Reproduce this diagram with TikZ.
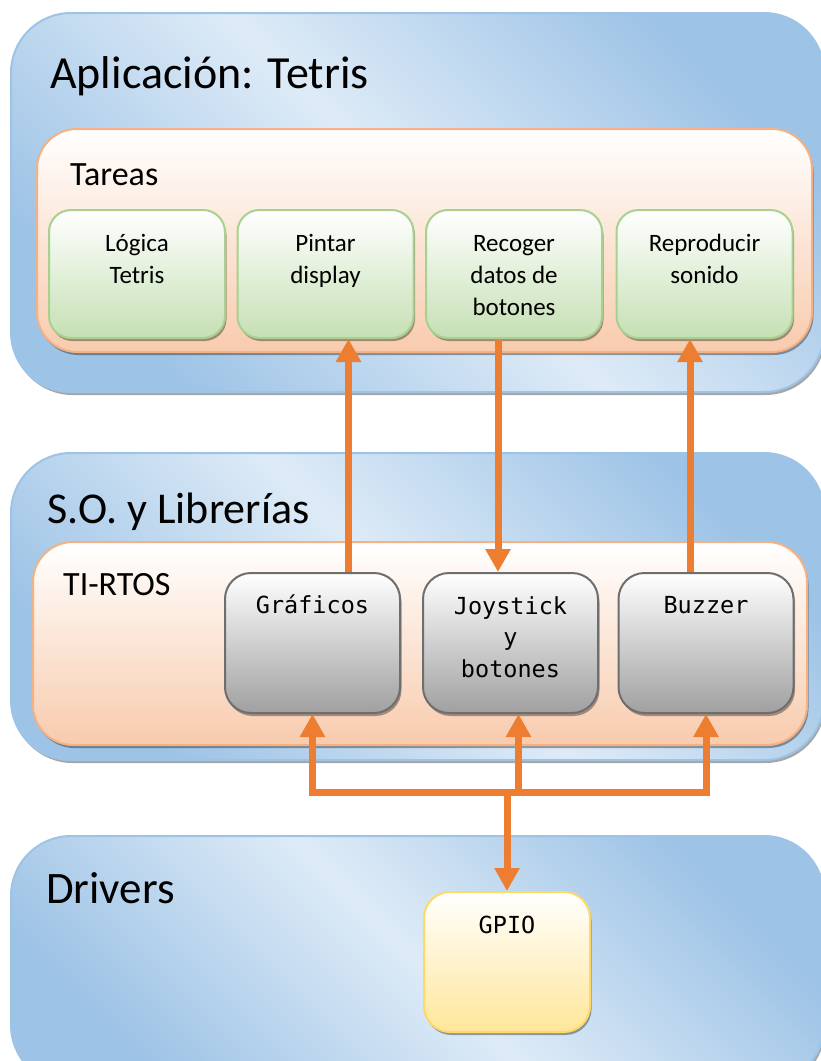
\documentclass[tikz,border=0pt]{standalone}
\usepackage{fontspec}
\setmainfont{Carlito}
\newfontfamily\monof{DejaVu Sans Mono}
\usetikzlibrary{arrows.meta,shadows,calc}
\definecolor{bdark}{HTML}{9DC3E6}
\definecolor{blight}{HTML}{DEEBF7}
\definecolor{bborder}{HTML}{9DC3E6}
\definecolor{oborder}{HTML}{F4B183}
\definecolor{obottom}{HTML}{F8CBAD}
\definecolor{gborder}{HTML}{A9D18E}
\definecolor{gbottom}{HTML}{C5E0B4}
\definecolor{grborder}{HTML}{6E6E6E}
\definecolor{grbottom}{HTML}{A0A0A0}
\definecolor{yborder}{HTML}{FFD966}
\definecolor{ybottom}{HTML}{FFE699}
\definecolor{arrowc}{HTML}{ED7D31}
\begin{document}
\begin{tikzpicture}[x=1pt,y=-1pt,
  shad/.style={drop shadow={shadow xshift=1.5pt,shadow yshift=-3pt,opacity=0.35,fill=black}},
  bluepanel/.style={shad,draw=bborder,line width=2pt,rounded corners=60pt,
    left color=bdark,right color=bdark,middle color=blight,shading angle=-45,
    inner sep=0pt,minimum width=813pt},
  orangepanel/.style={shad,draw=oborder,line width=2pt,rounded corners=40pt,
    top color=white,bottom color=obottom,inner sep=0pt},
  greenbox/.style={shad,draw=gborder,line width=2pt,rounded corners=22pt,
    top color=white,bottom color=gbottom,inner sep=0pt,minimum width=176pt,minimum height=128pt},
  graybox/.style={shad,draw=grborder,line width=2pt,rounded corners=26pt,
    top color=white,bottom color=grbottom,inner sep=0pt,minimum width=175pt,minimum height=140pt},
  yellowbox/.style={shad,draw=yborder,line width=2pt,rounded corners=26pt,
    top color=white,bottom color=ybottom,inner sep=0pt,minimum width=166pt,minimum height=140pt},
  bigtitle/.style={anchor=base west,inner sep=0pt,font=\fontsize{45}{54}\selectfont},
  subtitle/.style={anchor=base west,inner sep=0pt,font=\fontsize{34}{40}\selectfont},
  greentext/.style={anchor=north,inner sep=0pt,align=center,font=\fontsize{25}{32}\selectfont},
  monotext/.style={anchor=north,inner sep=0pt,align=center,font=\monof\fontsize{23.5}{31.5}\selectfont},
  arr/.style={draw=arrowc,line width=7pt,-{Triangle[width=24pt,length=23pt]}},
  busline/.style={draw=arrowc,line width=7pt,line cap=rect}
]
\useasboundingbox (0,0) rectangle (821,1061);
\clip (0,0) rectangle (821,1061);

% layers
\node[bluepanel,minimum height=379pt] (p1) at (417.5,202.5) {};
\node[bluepanel,minimum height=307pt] (p2) at (417.5,606.5) {};
\node[bluepanel,minimum height=249pt] (p3) at (417.5,960.5) {};

\node[orangepanel,minimum width=775pt,minimum height=223pt] (o1) at (424.5,240.5) {};
\node[orangepanel,minimum width=774pt,minimum height=203pt] (o2) at (420,643.5) {};

% titles
\node[bigtitle,font=\fontsize{46}{54}\selectfont] (t1) at (50,88) {Aplicación: Tetris};
\node[subtitle] (t2) at (70,185) {Tareas};
\node[bigtitle,font=\fontsize{44}{54}\selectfont] (t3) at (47,523) {S.O. y Librerías};
\node[subtitle] (t4) at (63,595) {TI-RTOS};
\node[bigtitle] (t5) at (46,903) {Drivers};

% tasks
\node[greenbox] (logica) at (137,274) {};
\node[greenbox] (pintar) at (325.5,274) {};
\node[greenbox] (recoger) at (514,274) {};
\node[greenbox] (repro) at (704.5,274) {};
\node[greentext] (tl1) at ([yshift=-21pt]logica.north) {\vphantom{Ó}Lógica\\Tetris};
\node[greentext] (tl2) at ([yshift=-21pt]pintar.north) {\vphantom{Ó}Pintar\\display};
\node[greentext] (tl3) at ([yshift=-21pt]recoger.north) {\vphantom{Ó}Recoger\\datos de\\botones};
\node[greentext] (tl4) at ([yshift=-21pt]repro.north) {\vphantom{Ó}Reproducir\\sonido};

% libraries
\node[graybox] (graf) at (312.5,643) {};
\node[graybox] (joy) at (510.5,643) {};
\node[graybox] (buz) at (706,643) {};
\node[monotext] (tg1) at ([yshift=-20pt]graf.north) {\vphantom{Ó}Gráficos};
\node[monotext] (tg2) at ([yshift=-20pt]joy.north) {\vphantom{Ó}Joystick\\y\\botones};
\node[monotext] (tg3) at ([yshift=-20pt]buz.north) {\vphantom{Ó}Buzzer};

% drivers
\node[yellowbox] (gpio) at (507,962) {};
\node[monotext] (ty1) at ([yshift=-20pt]gpio.north) {\vphantom{Ó}GPIO};

% connectors top
\coordinate (ax1) at ([xshift=36pt]graf.north);
\draw[arr] (ax1) -- (ax1 |- pintar.south);
\coordinate (ax2) at ([xshift=-16pt]recoger.south);
\draw[arr] (ax2) -- (ax2 |- joy.north);
\coordinate (ax3) at ([xshift=-16pt]buz.north);
\draw[arr] (ax3) -- (ax3 |- repro.south);

% bus
\coordinate (bus) at (0,792);
\coordinate (jx) at ([xshift=8pt]joy.south);
\draw[busline] (graf.south |- bus) -- (buz.south |- bus);
\draw[arr] (graf.south |- bus) -- (graf.south);
\draw[arr] (jx |- bus) -- (jx);
\draw[arr] (buz.south |- bus) -- (buz.south);
\draw[arr] (gpio.north |- bus) -- (gpio.north);
\end{tikzpicture}
\end{document}
